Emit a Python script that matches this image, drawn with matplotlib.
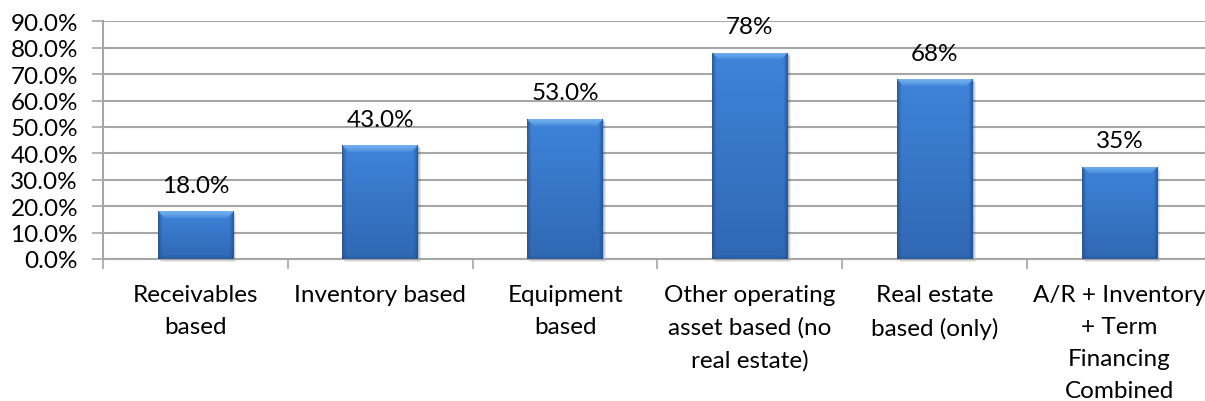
import numpy as np
import matplotlib.pyplot as plt
from matplotlib.colors import to_rgb
from matplotlib.patches import Rectangle

categories = ["Receivables\nbased", "Inventory based", "Equipment\nbased",
              "Other operating\nasset based (no\nreal estate)",
              "Real estate\nbased (only)",
              "A/R + Inventory\n+ Term\nFinancing\nCombined"]
values = [18.0, 43.0, 53.0, 78.0, 68.0, 35.0]
decimals = [1, 1, 1, 0, 0, 0]
y_ticks = np.arange(0, 91, 10)

plt.rcParams["font.family"] = ["Lato", "DejaVu Sans"]
FS = 17.5
GRID = "#a6a6a6"

fig = plt.figure(figsize=(12.05, 4.02), dpi=100)
# right edge of the last category runs slightly past the canvas
ax = fig.add_axes([103 / 1205, 142 / 402, 1109 / 1205, 237.7 / 402])

x = np.arange(len(values))
bars = ax.bar(x, values, width=0.41, color="#3a7bcc", zorder=2)

px_per_unit_x = 1109 / 6
px_per_unit_y = 237.7 / 90


def bevel_image(w_px, h_px):
    # vertical shading, a bit darker towards the bottom
    top = np.array(to_rgb("#3e84d9"))
    bot = np.array(to_rgb("#3068b3"))
    t = np.linspace(0, 1, h_px)[:, None, None]
    img = top * (1 - t) + bot * t
    img = np.repeat(img, w_px, axis=1)
    edge = 4
    cap = 7
    dark = np.array(to_rgb("#22518f"))
    light = np.array(to_rgb("#78b4f2"))
    # side bevels
    for i in range(edge):
        a = 0.75 * (1 - i / edge)
        img[:, i] = img[:, i] * (1 - a) + dark * a
        img[:, -1 - i] = img[:, -1 - i] * (1 - a) + dark * a
    # top cap, trapezoid shaped
    for j in range(min(cap, h_px)):
        a = 0.9 * (1 - j / cap) ** 0.7
        lo, hi = max(j, 1), w_px - max(j, 1)
        img[j, lo:hi] = img[j, lo:hi] * (1 - a) + light * a
    # bottom shade
    for j in range(min(4, h_px)):
        a = 0.45 * (1 - j / 4)
        img[-1 - j] = img[-1 - j] * (1 - a) + dark * a
    return np.clip(img, 0, 1)


for b in bars:
    bx, by, bw, bh = b.get_x(), b.get_y(), b.get_width(), b.get_height()
    # soft drop shadow under each bar
    for k, al in [(3, 0.10), (2, 0.15), (1, 0.2)]:
        ax.add_patch(Rectangle((bx + k / px_per_unit_x, by - k / px_per_unit_y), bw, bh,
                               facecolor="#404040", alpha=al, lw=0, zorder=1.5,
                               clip_on=False))
    img = bevel_image(max(int(bw * px_per_unit_x), 10), max(int(bh * px_per_unit_y), 8))
    im = ax.imshow(img, extent=[bx, bx + bw, by, by + bh], aspect="auto",
                   zorder=3, interpolation="bilinear")
    im.set_clip_path(b)

for xi, v, d in zip(x, values, decimals):
    ax.annotate(f"{v:.{d}f}%", (xi, v), xytext=(0, 19), textcoords="offset points",
                ha="center", va="center", fontsize=FS, color="black", zorder=4)

ax.set_xlim(-0.5, 5.5)
ax.set_ylim(0, 90)
ax.set_yticks(y_ticks)
ax.set_yticklabels([f"{t:.1f}%" for t in y_ticks], fontsize=FS)
ax.yaxis.grid(True, color=GRID, linewidth=1.5, zorder=0)
ax.set_axisbelow(True)

# category ticks sit between the bars
ax.set_xticks(np.arange(-0.5, 6, 1))
ax.set_xticklabels([])
ax.set_xticks(x, minor=True)
ax.set_xticklabels(categories, minor=True, fontsize=FS, linespacing=1.65)
ax.tick_params(axis="x", which="minor", length=0, pad=18)
ax.tick_params(axis="x", which="major", length=7, width=1.2, color=GRID)
ax.tick_params(axis="y", length=8, width=1.2, color=GRID, pad=10)

for side in ["top", "right"]:
    ax.spines[side].set_visible(False)
for side in ["left", "bottom"]:
    ax.spines[side].set_color(GRID)
    ax.spines[side].set_linewidth(1.5)

fig.savefig("out.png", dpi=100)
